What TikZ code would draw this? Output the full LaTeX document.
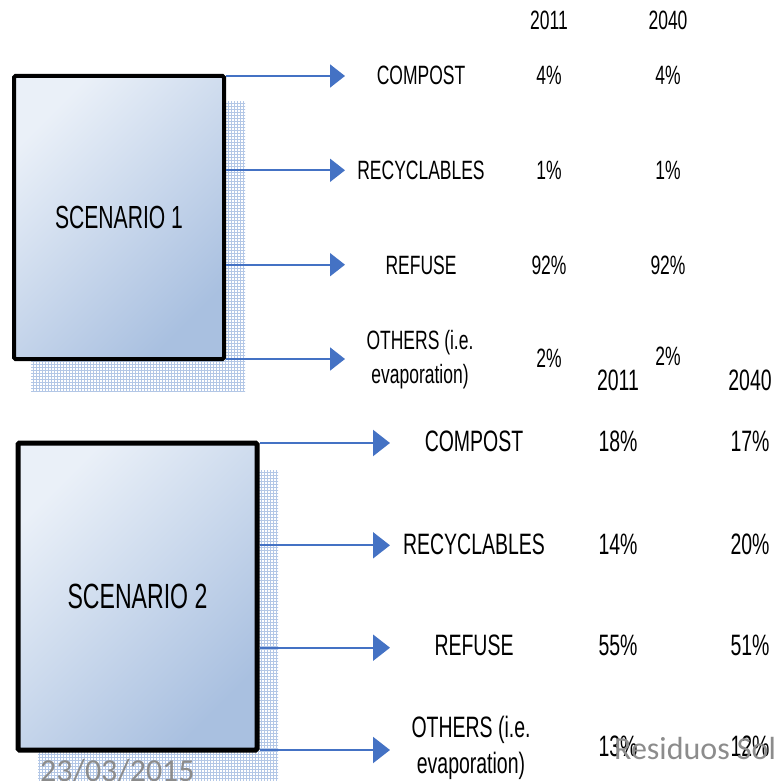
\documentclass[tikz,border=0pt]{standalone}
\usepackage{fontspec}
\setmainfont{Liberation Sans}
\newfontfamily\narrowfont[FakeStretch=0.66]{Liberation Sans}
\newfontfamily\footfont{Carlito}
\usetikzlibrary{arrows.meta,patterns,calc}

\definecolor{flowblue}{HTML}{4472C4}
\definecolor{boxlight}{HTML}{EAF0F8}
\definecolor{boxmid}{HTML}{BFCFE8}
\definecolor{boxdark}{HTML}{A9C0E0}
\definecolor{gridblue}{HTML}{B3C7E6}
\definecolor{gridfill}{HTML}{EAF0F9}
\definecolor{footgray}{HTML}{8C8C8C}

\tikzset{
  x=1pt, y=-1pt,
  scenbox/.style={draw=black, rounded corners=1.5pt, shading=axis,
    top color=boxlight, middle color=boxmid, bottom color=boxdark,
    shading angle=45, inner sep=0pt, font=\narrowfont},
  shadowgrid/.style={fill=gridfill, pattern=grid, pattern color=gridblue},
  flowA/.style={draw=flowblue, line width=2pt, -{Triangle[length=15pt,width=23pt]}},
  flowB/.style={draw=flowblue, line width=2.2pt, -{Triangle[length=17pt,width=26pt]}},
  lblA/.style={font=\narrowfont\fontsize{26.5}{34}\selectfont, align=center, inner sep=0pt},
  lblB/.style={font=\narrowfont\fontsize{29.5}{36}\selectfont, align=center, inner sep=0pt},
  foot/.style={font=\footfont\fontsize{32}{40}\selectfont, text=footgray, inner sep=0pt},
}

\begin{document}
\begin{tikzpicture}
\useasboundingbox (0,0) rectangle (776,781);
\clip (0,0) rectangle (776,781);

% ---------- Scenario 1 ----------
\fill[shadowgrid] (31,102) rectangle (245,391);
\node[scenbox, line width=4pt, minimum width=210pt, minimum height=283pt,
      font=\narrowfont\fontsize{32}{36}\selectfont] (s1) at (119,217.5) {SCENARIO 1};

\node[lblA] (h1a) at (549,20) {2011};
\node[lblA] (h1b) at (668,20) {2040};

\coordinate (t1a) at (345,76);
\coordinate (t1b) at (345,170.3);
\coordinate (t1c) at (345,264.7);
\coordinate (t1d) at (345,359);

\draw[flowA] (s1.east |- t1a) -- (t1a);
\draw[flowA] (s1.east |- t1b) -- (t1b);
\draw[flowA] (s1.east |- t1c) -- (t1c);
\draw[flowA] (s1.east |- t1d) -- (t1d);

\node[lblA] (c1) at (421,75) {COMPOST};
\node[lblA] (r1) at (421,170) {RECYCLABLES};
\node[lblA] (f1) at (421,265) {REFUSE};
\node[lblA] (o1) at (420,360) {OTHERS (i.e.\\evaporation)};

\node[lblA] (c1a) at (549,75) {4\%};
\node[lblA] (c1b) at (668,75) {4\%};
\node[lblA] (r1a) at (549,170) {1\%};
\node[lblA] (r1b) at (668,170) {1\%};
\node[lblA] (f1a) at (549,265) {92\%};
\node[lblA] (f1b) at (668,265) {92\%};
\node[lblA] (o1a) at (549,358) {2\%};
\node[lblA] (o1b) at (668,356) {2\%};

% ---------- Scenario 2 ----------
\fill[shadowgrid] (38,470) rectangle (278,795);
\node[scenbox, line width=5pt, minimum width=239pt, minimum height=307pt,
      font=\narrowfont\fontsize{35}{40}\selectfont] (s2) at (137.5,596.5) {SCENARIO 2};

\node[lblB] (h2a) at (618,380) {2011};
\node[lblB] (h2b) at (750,380) {2040};

\coordinate (t2a) at (390,443);
\coordinate (t2b) at (390,545.3);
\coordinate (t2c) at (390,647.7);
\coordinate (t2d) at (390,750);

\draw[flowB] (s2.east |- t2a) -- (t2a);
\draw[flowB] (s2.east |- t2b) -- (t2b);
\draw[flowB] (s2.east |- t2c) -- (t2c);
\draw[flowB] (s2.east |- t2d) -- (t2d);

\node[lblB] (c2) at (474,441) {COMPOST};
\node[lblB] (r2) at (474,544) {RECYCLABLES};
\node[lblB] (f2) at (474,645) {REFUSE};
\node[lblB] (o2) at (471,748) {OTHERS (i.e.\\evaporation)};

\node[lblB] (c2a) at (618,441) {18\%};
\node[lblB] (c2b) at (750,441) {17\%};
\node[lblB] (r2a) at (618,544) {14\%};
\node[lblB] (r2b) at (750,544) {20\%};
\node[lblB] (f2a) at (618,645) {55\%};
\node[lblB] (f2b) at (750,645) {51\%};
\node[lblB] (o2a) at (618,746) {13\%};
\node[lblB] (o2b) at (750,746) {12\%};

% ---------- footer ----------
\node[foot, anchor=base west] (date) at (40,781) {23/03/2015};
\node[foot, anchor=base west] (title) at (614,759) {Residuos Sol};
\end{tikzpicture}
\end{document}
